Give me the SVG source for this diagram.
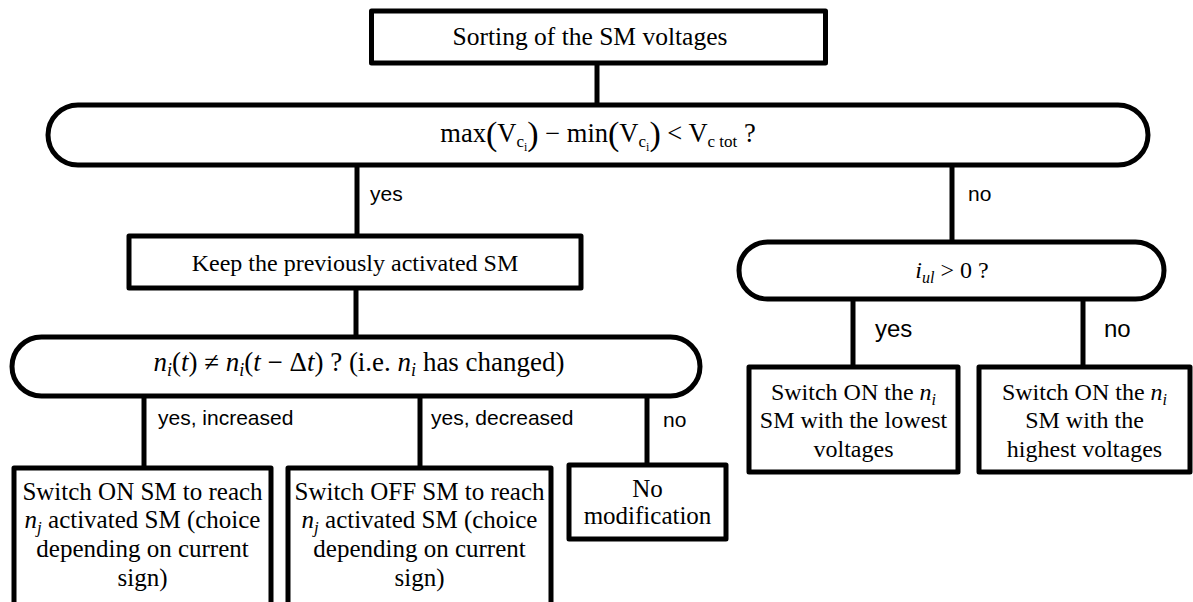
<svg xmlns="http://www.w3.org/2000/svg" width="1193" height="602" viewBox="0 0 1193 602">
<style>
.n{fill:#fff;stroke:#000;stroke-width:5;stroke-linejoin:round}
.c{fill:none;stroke:#000;stroke-width:5}
.t{font-family:"Liberation Serif","Times New Roman",serif;font-size:24px;fill:#000;text-anchor:middle}
.t25{font-size:25px}
.l{font-family:"Liberation Sans",Arial,sans-serif;font-size:21px;fill:#000}
.lb{font-family:"Liberation Sans",Arial,sans-serif;font-size:24px;fill:#000}
.i{font-style:italic}
</style>
<rect width="1193" height="602" fill="#fff"/>
<g id="connectors">
<line class="c" x1="597" y1="63" x2="597" y2="105"/>
<line class="c" x1="357" y1="165" x2="357" y2="236"/>
<line class="c" x1="952" y1="165" x2="952" y2="242"/>
<line class="c" x1="356" y1="288" x2="356" y2="337"/>
<line class="c" x1="144" y1="396" x2="144" y2="468"/>
<line class="c" x1="420" y1="396" x2="420" y2="468"/>
<line class="c" x1="647" y1="396" x2="647" y2="465"/>
<line class="c" x1="853" y1="299" x2="853" y2="367"/>
<line class="c" x1="1083" y1="299" x2="1083" y2="367"/>
<text class="l" x="370" y="201">yes</text>
<text class="l" x="968" y="201">no</text>
<text class="l" x="158" y="425">yes, increased</text>
<text class="l" x="431" y="425">yes, decreased</text>
<text class="l" x="663" y="427">no</text>
<text class="lb" x="875" y="337">yes</text>
<text class="lb" x="1104" y="337">no</text>
</g>
<g id="sort">
<rect class="n" x="371.5" y="11" width="454" height="52"/>
<text class="t" x="590" y="45" style="font-size:25.5px">Sorting of the SM voltages</text>
</g>
<g id="cond1">
<rect class="n" x="48" y="105" width="1100" height="60" rx="30"/>
<text class="t" x="598" y="142" style="font-size:26.5px">max<tspan font-size="34" dy="3">(</tspan><tspan dy="-3">V</tspan><tspan font-size="17" dy="5">c</tspan><tspan font-size="12" dy="4">i</tspan><tspan font-size="34" dy="-6">)</tspan><tspan dy="-3"> − min</tspan><tspan font-size="34" dy="3">(</tspan><tspan dy="-3">V</tspan><tspan font-size="17" dy="5">c</tspan><tspan font-size="12" dy="4">i</tspan><tspan font-size="34" dy="-6">)</tspan><tspan dy="-3"> &lt; V</tspan><tspan font-size="17" dy="5">c tot</tspan><tspan dy="-5"> ?</tspan></text>
</g>
<g id="keep">
<rect class="n" x="129" y="236" width="452" height="52"/>
<text class="t" x="355" y="271">Keep the previously activated SM</text>
</g>
<g id="cond2">
<rect class="n" x="12" y="337" width="688" height="59" rx="29.5"/>
<text class="t" x="359" y="371" style="font-size:27px"><tspan class="i">n</tspan><tspan class="i" font-size="18" dy="5">i</tspan><tspan dy="-5">(</tspan><tspan class="i">t</tspan>) ≠ <tspan class="i">n</tspan><tspan class="i" font-size="18" dy="5">i</tspan><tspan dy="-5">(</tspan><tspan class="i">t</tspan> − Δ<tspan class="i">t</tspan>) ? (i.e. <tspan class="i">n</tspan><tspan class="i" font-size="18" dy="5">i</tspan><tspan dy="-5"> has changed)</tspan></text>
</g>
<g id="cond3">
<rect class="n" x="739" y="242" width="425" height="57" rx="28.5"/>
<text class="t" x="952" y="278"><tspan class="i">i</tspan><tspan class="i" font-size="16" dy="5">ul</tspan><tspan dy="-5"> &gt; 0 ?</tspan></text>
</g>
<g id="switch-on">
<rect class="n" x="14" y="468" width="257" height="145"/>
<text class="t t25" x="142.5" y="500">Switch ON SM to reach</text>
<text class="t t25" x="142.5" y="528"><tspan class="i">n</tspan><tspan class="i" font-size="17" dy="5">j</tspan><tspan dy="-5"> activated SM (choice</tspan></text>
<text class="t t25" x="142.5" y="557">depending on current</text>
<text class="t t25" x="142.5" y="586">sign)</text>
</g>
<g id="switch-off">
<rect class="n" x="288" y="468" width="263" height="145"/>
<text class="t t25" x="419.5" y="500">Switch OFF SM to reach</text>
<text class="t t25" x="419.5" y="528"><tspan class="i">n</tspan><tspan class="i" font-size="17" dy="5">j</tspan><tspan dy="-5"> activated SM (choice</tspan></text>
<text class="t t25" x="419.5" y="557">depending on current</text>
<text class="t t25" x="419.5" y="586">sign)</text>
</g>
<g id="no-mod">
<rect class="n" x="569" y="465" width="157" height="74"/>
<text class="t t25" x="647.5" y="497">No</text>
<text class="t t25" x="647.5" y="524">modification</text>
</g>
<g id="lowest">
<rect class="n" x="749" y="367" width="209" height="105"/>
<text class="t" x="853.5" y="400">Switch ON the <tspan class="i">n</tspan><tspan class="i" font-size="16" dy="5">i</tspan></text>
<text class="t" x="853.5" y="428">SM with the lowest</text>
<text class="t" x="853.5" y="457">voltages</text>
</g>
<g id="highest">
<rect class="n" x="979" y="367" width="211" height="105"/>
<text class="t" x="1084.5" y="400">Switch ON the <tspan class="i">n</tspan><tspan class="i" font-size="16" dy="5">i</tspan></text>
<text class="t" x="1084.5" y="428">SM with the</text>
<text class="t" x="1084.5" y="457">highest voltages</text>
</g>
</svg>
